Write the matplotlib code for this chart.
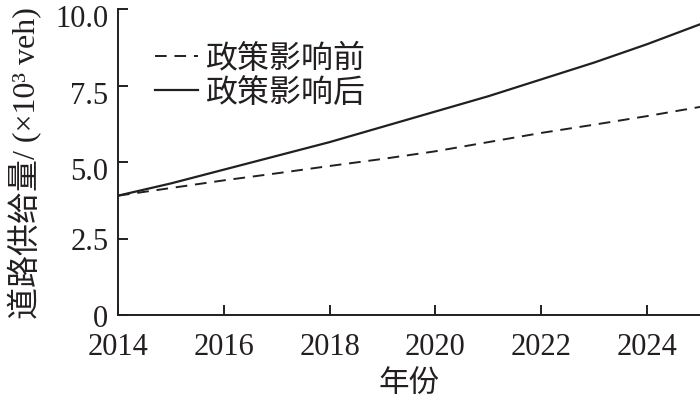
import matplotlib
matplotlib.use("Agg")
import matplotlib.pyplot as plt
from matplotlib.transforms import ScaledTranslation

years = [2014, 2015, 2016, 2017, 2018, 2019, 2020, 2021, 2022, 2023, 2024, 2025]
before = [3.9, 4.15, 4.4, 4.63, 4.87, 5.1, 5.35, 5.65, 5.95, 6.22, 6.5, 6.8]
after = [3.9, 4.3, 4.75, 5.2, 5.65, 6.15, 6.65, 7.15, 7.7, 8.25, 8.85, 9.5]
xticks = [2014, 2016, 2018, 2020, 2022, 2024]
yticks = [0, 2.5, 5.0, 7.5, 10.0]
ytick_labels = ["0", "2.5", "5.0", "7.5", "10.0"]
label_before = "政策影响前"
label_after = "政策影响后"
xlabel = "年份"
ylabel = "道路供给量/ (×10³ veh)"

fam = ["Liberation Serif", "Noto Sans CJK SC"]
plt.rcParams["font.family"] = fam

ink = "#231f20"
fig = plt.figure(figsize=(7.0, 4.02), dpi=100)
ax = fig.add_axes([118/700, 86/402, (700-118)/700, (316-10)/402])

ax.plot(years, before, color=ink, lw=1.4, dashes=(6, 4), label=label_before)
ax.plot(years, after, color=ink, lw=1.6, label=label_after)

ax.set_xlim(2014, 2025)
ax.set_ylim(0, 10)
ax.set_xticks(xticks)
ax.set_xticklabels([str(x) for x in xticks])
ax.set_yticks(yticks)
ax.set_yticklabels(ytick_labels)
for s in ["top", "right"]:
    ax.spines[s].set_visible(False)
for s in ["left", "bottom"]:
    ax.spines[s].set_linewidth(1.4)
    ax.spines[s].set_color(ink)
ax.tick_params(direction="in", length=7, width=1.4, color=ink,
               labelsize=22, labelcolor=ink)
ax.tick_params(axis="x", pad=12)
ax.tick_params(axis="y", pad=7)
for lab, v in zip(ax.get_yticklabels(), yticks):
    dy = 6 if v >= 5 else 0
    if dy:
        lab.set_transform(lab.get_transform()
                          + ScaledTranslation(0, -dy/100, fig.dpi_scale_trans))

ax.set_xlabel(xlabel, fontsize=22, color=ink, labelpad=6)
ax.set_ylabel(ylabel, fontsize=23, color=ink, labelpad=9)

leg = ax.legend(loc="upper left", bbox_to_anchor=(0.064, 0.885), frameon=False,
                fontsize=23, handlelength=1.35, handletextpad=0.25,
                labelspacing=0.12, borderaxespad=0, borderpad=0)
for t in leg.get_texts():
    t.set_color(ink)

fig.savefig("out.png", dpi=100)
